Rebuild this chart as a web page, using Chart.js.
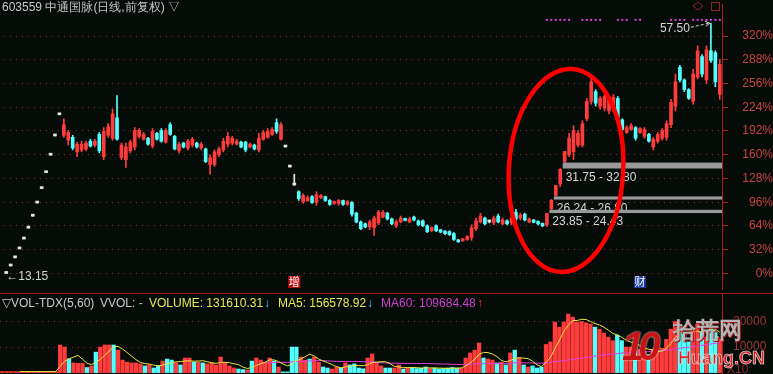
<!DOCTYPE html>
<html>
<head>
<meta charset="utf-8">
<script src="https://cdn.jsdelivr.net/npm/chart.js@4.4.1/dist/chart.umd.min.js"></script>
<style>
  body { margin: 0; background: #060c08; width: 773px; height: 374px; overflow: hidden; position: relative;
         font-family: "Liberation Sans", Arial, sans-serif; }
  canvas { position: absolute; left: 0; }
  #main { top: 0; }
  #vol { top: 293px; }
  .t { position: absolute; font-size: 12px; line-height: 12px; white-space: nowrap; }
  .sep { position: absolute; left: 0; top: 293px; width: 773px; height: 1px; background: #a81818; }
  .wm { position: absolute; font-weight: bold; white-space: nowrap; line-height: 1; }
</style>
</head>
<body>
<canvas id="main" width="773" height="293"></canvas>
<canvas id="vol" width="773" height="81"></canvas>
<div class="sep"></div>

<div class="t" style="left:2px;top:1px;color:#c8c8c8">603559 中通国脉(日线,前复权) ▽</div>

<div class="t" style="left:2px;top:297px;color:#c8c8c8">▽VOL-TDX(5,60)</div>
<div class="t" style="left:100px;top:297px;color:#c8c8c8">VVOL: -</div>
<div class="t" style="left:149px;top:297px;color:#e8e850">VOLUME: 131610.31</div>
<div class="t" style="left:264px;top:297px;color:#48c8ff">↓</div>
<div class="t" style="left:278px;top:297px;color:#e8e850">MA5: 156578.92</div>
<div class="t" style="left:367px;top:297px;color:#48c8ff">↓</div>
<div class="t" style="left:381px;top:297px;color:#d040d0">MA60: 109684.48</div>
<div class="t" style="left:477px;top:297px;color:#ff3030">↑</div>
<div class="t" style="left:727px;top:363px;color:#8a2a2a">X10</div>

<div class="wm" style="left:622px;top:326px;font-size:40px;font-style:italic;color:#c81414;letter-spacing:-6px;text-shadow:0 0 2px #fff">10</div>
<div class="wm" style="left:673px;top:319px;font-size:23px;color:#b4b4b4;text-shadow:1px 1px 0 #a01010">拾荒网</div>
<div class="wm" style="left:678px;top:349px;font-size:18px;color:#e02020;-webkit-text-stroke:0.6px #e8e8e8">Huang.CN</div>

<script>
// 603559 daily, forward adjusted. Prices.
const BASE = 13.15;
const OPEN = [13.15,14.47,15.91,17.50,19.25,21.18,23.30,25.63,28.19,31.01,34.11,37.52,41.27,
  37.63,36.76,37.28,34.70,35.04,35.21,36.59,35.90,37.80,33.83,37.63,37.11,40.73,33.66,33.32,34.87,35.56,37.45,
  36.94,37.11,35.73,37.97,38.49,36.42,39.52,37.45,34.87,36.25,35.38,35.90,36.25,35.38,35.21,32.46,32.46,34.18,
  35.04,36.07,36.25,36.07,36.42,36.42,35.56,35.90,35.04,36.94,37.28,37.80,39.87,36.94,35.56,32.01,28.81,27.63,
  25.90,26.08,26.76,25.73,26.59,26.76,26.08,25.56,25.56,26.08,25.39,25.73,23.83,22.28,21.94,21.42,21.25,22.11,
  23.14,23.83,22.80,21.59,22.28,22.89,22.28,23.14,22.46,22.46,21.59,20.73,21.59,20.90,20.65,20.56,20.21,19.09,
  18.92,19.18,19.52,21.08,22.28,22.97,22.28,22.11,23.32,21.94,22.46,22.11,24.00,22.97,23.66,22.28,22.63,22.37,
  22.02,21.75,24.60,27.00,29.00,33.00,34.18,34.70,35.90,35.90,40.56,43.66,45.38,42.80,42.45,41.94,42.45,44.18,
  40.38,38.14,38.66,39.01,38.14,37.45,37.80,35.56,36.59,37.11,37.28,39.52,42.80,49.69,47.45,45.73,43.66,47.97,
  51.59,47.45,52.62,52.28,44.87];
const HIGH = [13.15,14.47,15.91,17.50,19.25,21.18,23.30,25.63,28.19,31.01,34.11,37.52,41.27,
  40.56,38.49,37.63,36.42,36.59,36.59,36.94,36.94,38.14,39.01,39.70,42.28,44.69,36.25,36.25,36.76,39.01,38.83,
  38.14,37.28,38.83,38.14,38.83,38.83,39.87,37.63,36.42,36.42,36.94,37.28,36.42,36.42,35.38,34.18,35.04,35.56,
  37.11,38.14,37.45,36.94,36.59,36.59,36.25,36.07,37.97,38.49,38.83,39.01,40.56,39.87,35.56,32.01,30.73,27.80,
  27.28,26.94,26.94,27.63,27.11,26.85,26.25,26.00,26.25,26.16,26.08,25.90,24.00,22.46,22.11,22.63,23.32,24.35,
  24.35,24.00,22.97,22.63,23.32,22.97,23.14,23.32,22.63,22.63,21.77,21.42,21.77,20.99,20.73,20.73,20.39,19.18,
  19.35,19.87,21.77,22.97,23.83,23.14,22.46,23.32,23.66,22.97,22.63,23.32,24.52,23.83,23.83,22.97,22.71,22.46,
  22.11,23.85,26.24,28.74,31.75,34.77,37.97,39.35,38.49,40.21,44.18,48.31,45.73,44.52,45.04,44.52,44.87,44.52,
  40.56,39.35,39.70,39.18,39.01,39.01,37.97,37.28,38.14,38.83,40.21,44.00,48.49,50.04,47.63,45.90,49.35,53.49,
  51.93,53.49,57.50,52.62,51.07];
const LOW = [13.15,14.47,15.91,17.50,19.25,21.18,23.30,25.63,28.19,31.01,34.11,37.52,41.27,
  37.28,35.90,35.04,33.83,34.70,34.87,35.56,35.56,34.52,33.32,37.28,36.76,36.76,33.32,31.94,34.52,35.04,37.11,
  36.76,35.90,35.38,36.76,36.42,36.25,37.63,35.04,34.52,35.38,35.04,35.56,35.38,35.04,32.80,30.73,32.11,33.83,
  34.70,35.56,35.90,35.90,35.38,34.70,35.38,35.04,34.70,36.76,37.11,37.63,37.97,36.76,35.56,32.01,28.81,26.08,
  25.56,25.90,25.56,25.21,26.42,25.90,25.21,25.39,25.21,25.21,25.21,23.32,22.11,20.90,21.25,20.90,19.87,21.77,
  22.97,22.63,21.77,21.25,22.11,22.46,22.11,22.46,21.59,21.42,20.39,20.56,20.56,20.39,20.04,19.87,19.01,18.66,
  18.84,19.01,19.01,20.73,22.11,21.77,22.11,21.77,22.11,21.77,21.77,21.77,22.46,22.63,22.46,22.11,22.11,21.77,
  21.42,21.45,24.43,26.80,28.50,32.80,33.83,33.32,35.56,35.56,40.21,43.14,42.80,42.28,41.94,41.42,41.94,40.21,
  38.49,37.97,38.49,36.76,37.97,37.11,36.42,35.04,36.25,36.76,36.76,39.01,41.94,47.11,45.38,44.00,43.14,47.63,
  47.97,46.76,50.56,46.24,44.00];
const CLOSE = [13.15,14.47,15.91,17.50,19.25,21.18,23.30,25.63,28.19,31.01,34.11,37.52,41.27,
  39.52,38.14,35.38,36.07,36.07,36.25,35.73,36.59,34.87,38.32,39.18,41.42,36.94,35.90,35.56,36.42,38.49,38.49,
  37.80,36.07,38.32,36.94,36.59,38.49,37.80,35.21,36.07,35.56,36.59,36.94,35.56,36.07,32.97,33.66,34.70,35.21,
  36.59,37.45,37.11,36.59,35.56,35.04,36.07,35.21,37.11,38.14,38.32,38.66,38.32,39.52,35.56,32.01,28.81,26.42,
  26.94,26.59,25.73,27.11,26.94,26.08,25.39,25.90,26.08,25.39,25.90,23.66,22.28,21.08,21.42,22.28,22.97,24.00,
  24.00,22.80,21.94,22.28,22.97,22.54,22.80,22.63,21.77,21.59,20.56,21.25,20.73,20.47,20.21,20.04,19.18,18.75,
  19.18,19.70,21.25,22.46,23.32,21.94,22.28,22.97,22.28,22.63,21.94,22.97,22.80,23.49,22.63,22.80,22.20,21.94,
  21.59,23.75,26.13,28.74,31.61,34.77,37.11,38.49,37.97,39.70,43.66,47.11,43.32,44.18,44.52,44.00,44.35,40.73,
  38.66,39.01,39.35,37.11,38.83,38.66,36.59,36.94,37.80,38.49,39.70,43.49,47.11,47.45,45.73,44.18,48.49,52.62,
  48.49,52.80,50.90,47.11,50.21];
const VOLUME = [4000,4000,4000,4000,4000,4000,4000,4000,4000,4000,4000,4000,4000,
  108000,100000,54000,38000,36000,36000,20000,26000,80000,100000,108000,108000,108000,88000,49000,41000,38000,38000,
  34000,26000,30000,18000,26000,45000,53000,49000,38000,30000,57000,57000,41000,41000,38000,34000,38000,30000,
  61000,38000,26000,18000,14000,12000,10000,45000,57000,49000,41000,57000,45000,22000,3000,3000,100000,100000,
  61000,49000,53000,61000,41000,22000,18000,14000,22000,18000,38000,30000,34000,18000,15000,57000,73000,41000,
  26000,18000,18000,18000,30000,14000,18000,20000,16000,18000,22000,16000,18000,14000,16000,18000,20000,18000,
  18000,57000,77000,88000,116000,57000,53000,49000,38000,41000,30000,77000,88000,57000,30000,22000,26000,18000,
  22000,110000,120000,198000,178000,198000,229000,217000,198000,200000,195000,190000,178000,170000,155000,139000,125000,147000,
  125000,100000,100000,116000,90000,80000,70000,90000,85000,95000,130000,170000,200000,180000,150000,120000,170000,190000,
  160000,140000,200000,160000,131610];

const TICK_PCT = [0, 32, 64, 96, 128, 160, 192, 224, 256, 288, 320];
const VOL_TICKS = [100000, 200000];
const GAP_START = [123, 124, 126];
const GAP_LOW = [23.85, 26.24, 31.75];
const GAP_HIGH = [24.43, 26.80, 32.80];
const SIGNALS = [122,123,124,125,126,127, 130,131,132,133,134, 138,139,140, 142,143, 150,151,152,153, 155,156,157,158,159,160,161];
const MARK_AT = [65, 143];
const MARK_TEXT = ['增', '财'];

// visible windows of the two panels (price and volume)
const Y_MIN = 10.39, Y_MAX = 60.91, SIGNAL_LEVEL = 58.1;
const V_MIN = -5480, V_MAX = 311560;

Chart.defaults.font.family = '"Liberation Sans", Arial, sans-serif';
Chart.defaults.font.size = 12;

const IDX = OPEN.map((_, i) => i);
const kind = i => CLOSE[i] > OPEN[i] ? 'up' : (CLOSE[i] < OPEN[i] ? 'down' : 'flat');
const COLORS = {up: '#ff3c3c', down: '#54ffff', flat: '#e6e6e6'};
const candleColors = IDX.map(i => COLORS[kind(i)]);
const volColors = IDX.map(i => {
  const k = kind(i);
  if (k !== 'flat') return COLORS[k];
  return (i === 0 || CLOSE[i] >= CLOSE[i - 1]) ? COLORS.up : COLORS.down;
});

function movingAvg(arr, n) {
  return arr.map((v, i) => {
    if (i < n - 1) return null;
    let s = 0;
    for (let k = i - n + 1; k <= i; k++) s += arr[k];
    return s / n;
  });
}

function fixAxis(s) {
  s.width = 51;
  s.paddingTop = 0;
  s.paddingBottom = 0;
}

const overlay = {
  id: 'overlay',
  afterDatasetsDraw(chart) {
    const {ctx, chartArea: a, scales: {x, y}} = chart;
    ctx.save();
    ctx.font = '12px "Liberation Sans", Arial, sans-serif';
    ctx.textBaseline = 'top';
    ctx.textAlign = 'left';

    // price gaps, top one first so the lower bands cut the labels like the original
    for (let g = GAP_START.length - 1; g >= 0; g--) {
      const x0 = x.getPixelForValue(GAP_START[g]) - 2;
      const yt = y.getPixelForValue(GAP_HIGH[g]);
      const yb = y.getPixelForValue(GAP_LOW[g]);
      ctx.fillStyle = '#9a9a9a';
      ctx.fillRect(x0, yt, a.right - x0, Math.max(2, yb - yt));
      ctx.fillStyle = '#d6d6d6';
      ctx.fillText(GAP_LOW[g].toFixed(2) + ' - ' + GAP_HIGH[g].toFixed(2), x0 + 3, yb + 3);
    }

    // highest high
    let hi = 0, lo = 0;
    IDX.forEach(i => { if (HIGH[i] > HIGH[hi]) hi = i; if (LOW[i] < LOW[lo]) lo = i; });
    const hx = x.getPixelForValue(hi), hy = y.getPixelForValue(HIGH[hi]);
    ctx.fillStyle = '#d6d6d6';
    ctx.textBaseline = 'middle';
    ctx.textAlign = 'right';
    ctx.fillText(HIGH[hi].toFixed(2), hx - 21, hy + 5);
    ctx.strokeStyle = '#d6d6d6';
    ctx.lineWidth = 1;
    ctx.setLineDash([3, 2]);
    ctx.beginPath();
    ctx.moveTo(hx - 20, hy + 4);
    ctx.lineTo(hx - 2, hy);
    ctx.stroke();
    ctx.setLineDash([]);
    ctx.beginPath();
    ctx.moveTo(hx - 1, hy);
    ctx.lineTo(hx - 6, hy - 2);
    ctx.moveTo(hx - 1, hy);
    ctx.lineTo(hx - 5, hy + 3);
    ctx.stroke();

    // lowest low
    const lx = x.getPixelForValue(lo), ly = y.getPixelForValue(LOW[lo]);
    ctx.textAlign = 'left';
    ctx.fillText('←' + LOW[lo].toFixed(2), lx, ly + 3);

    // event marks along the bottom
    ctx.font = '11px "Noto Sans CJK SC", sans-serif';
    ctx.textAlign = 'center';
    MARK_AT.forEach((m, k) => {
      const mx = x.getPixelForValue(m);
      ctx.fillStyle = k === 0 ? '#b81010' : '#1c3c9c';
      ctx.fillRect(mx - 6, a.bottom - 13, 12, 12);
      ctx.fillStyle = '#ffffff';
      ctx.fillText(MARK_TEXT[k], mx, a.bottom - 7);
    });

    // hand drawn ring around the breakout
    const cx = x.getPixelForValue(126.3), cy = y.getPixelForValue(31.4);
    const rx = x.getPixelForValue(126.3 + 12.9) - cx;
    const ry = y.getPixelForValue(31.4 - 18.0) - cy;
    ctx.strokeStyle = '#ff0000';
    ctx.lineWidth = 4.5;
    ctx.beginPath();
    ctx.ellipse(cx, cy, rx, ry, 0.06, 0, Math.PI * 2);
    ctx.stroke();

    // small icons top right
    ctx.strokeStyle = '#8c2424';
    ctx.lineWidth = 1;
    ctx.beginPath();
    ctx.moveTo(698, 2); ctx.lineTo(703, 6); ctx.lineTo(698, 10); ctx.lineTo(693, 6); ctx.closePath();
    ctx.stroke();
    ctx.strokeRect(711.5, 2.5, 8, 8);
    ctx.restore();
  }
};

new Chart(document.getElementById('main'), {
  type: 'bar',
  data: {
    labels: IDX,
    datasets: [
      {
        type: 'line',
        data: IDX.map(i => SIGNALS.includes(i) ? SIGNAL_LEVEL : null),
        showLine: false,
        pointStyle: 'rect',
        pointRadius: 1.4,
        pointBorderWidth: 0,
        pointBackgroundColor: '#e040e0',
        order: -1
      },
      {
        data: IDX.map(i => [Math.min(OPEN[i], CLOSE[i]), Math.max(OPEN[i], CLOSE[i])]),
        backgroundColor: candleColors,
        barThickness: 3,
        minBarLength: 2,
        grouped: false,
        order: 0
      },
      {
        data: IDX.map(i => [LOW[i], HIGH[i]]),
        backgroundColor: candleColors,
        barThickness: 1,
        grouped: false,
        order: 1
      }
    ]
  },
  options: {
    responsive: false,
    animation: false,
    devicePixelRatio: 1,
    layout: {padding: 0},
    plugins: {legend: {display: false}, tooltip: {enabled: false}},
    scales: {
      x: {display: false, offset: true},
      y: {
        position: 'right',
        min: Y_MIN,
        max: Y_MAX,
        afterBuildTicks: s => { s.ticks = TICK_PCT.map(p => ({value: BASE * (1 + p / 100)})); },
        afterFit: fixAxis,
        ticks: {
          color: '#c84444',
          padding: 8,
          crossAlign: 'far',
          callback: (v, i) => TICK_PCT[i] + '%'
        },
        grid: {
          color: '#8a2a2a',
          tickLength: 6,
          tickColor: '#b02020',
          tickBorderDash: []
        },
        border: {color: '#b01c1c', width: 1, dash: [1, 5]}
      }
    }
  },
  plugins: [overlay]
});

new Chart(document.getElementById('vol'), {
  type: 'bar',
  data: {
    labels: IDX,
    datasets: [
      {
        type: 'line',
        data: movingAvg(VOLUME, 5),
        borderColor: '#e8e840',
        borderWidth: 1,
        pointRadius: 0,
        order: 0
      },
      {
        type: 'line',
        data: movingAvg(VOLUME, 60),
        borderColor: '#e040e0',
        borderWidth: 1,
        pointRadius: 0,
        order: 0
      },
      {
        data: VOLUME,
        backgroundColor: volColors,
        barThickness: 3.6,
        order: 1
      }
    ]
  },
  options: {
    responsive: false,
    animation: false,
    devicePixelRatio: 1,
    layout: {padding: 0},
    plugins: {legend: {display: false}, tooltip: {enabled: false}},
    scales: {
      x: {display: false, offset: true},
      y: {
        position: 'right',
        min: V_MIN,
        max: V_MAX,
        afterBuildTicks: s => { s.ticks = VOL_TICKS.map(v => ({value: v})); },
        afterFit: fixAxis,
        ticks: {
          color: '#9a3838',
          padding: 11,
          callback: v => String(v / 10)
        },
        grid: {
          color: '#8a2a2a',
          drawTicks: false
        },
        border: {color: '#b01c1c', width: 1, dash: [1, 5]}
      }
    }
  }
});
</script>
</body>
</html>
